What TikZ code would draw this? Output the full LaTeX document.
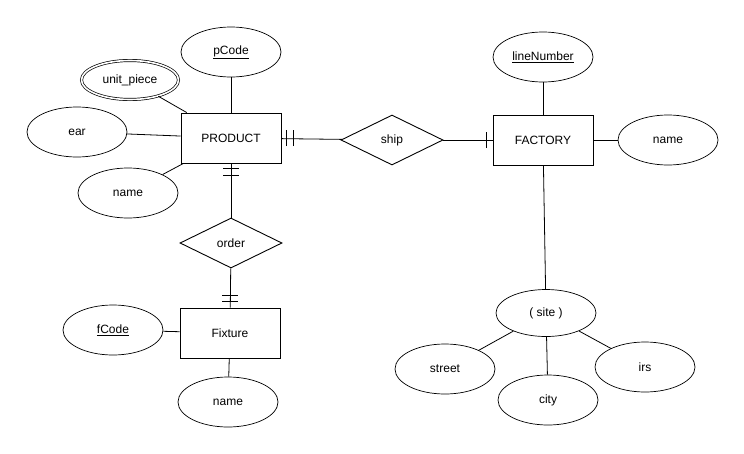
\documentclass[tikz,border=0pt]{standalone}
\usepackage{fontspec}
\setmainfont{Liberation Sans}
\usetikzlibrary{shapes.geometric}

\tikzset{
  every node/.style={font=\fontsize{12pt}{14pt}\selectfont, inner sep=0pt},
  entity/.style={draw, line width=0.9pt, rectangle, minimum width=100pt, minimum height=50pt},
  attr/.style={draw, line width=0.7pt, ellipse, minimum width=100pt, minimum height=50pt},
  multi/.style={attr, double, double distance=1.6pt, minimum width=97pt, minimum height=39pt},
  rel/.style={draw, line width=0.9pt, diamond, minimum width=102pt, minimum height=50pt},
  link/.style={line width=0.8pt},
  bar/.style={line width=0.9pt}
}

\begin{document}
\begin{tikzpicture}[x=1pt,y=-1pt]
\useasboundingbox (0,0) rectangle (744,453);

% entities and relationships
\node[entity] (prod) at (231,138) {PRODUCT};
\node[entity] (fact) at (543,140) {FACTORY};
\node[entity] (fix) at (230,333) {Fixture};
\node[rel] (ship) at (392,140) {ship};
\node[rel] (order) at (231,243) {order};

% attributes
\node[attr] (pcode) at (231,52) {\underline{pCode}};
\node[multi] (unit) at (130,80) {unit\_piece};
\node[attr] (ear) at (77,132) {ear};
\node[attr] (pname) at (128,193) {name};
\node[attr] (lnum) at (543,57) {\underline{lineNumber}};
\node[attr] (fname) at (668,140) {name};
\node[attr, minimum height=47pt] (site) at (546,313) {( site )};
\node[attr] (street) at (445,369) {street};
\node[attr] (city) at (548,400) {city};
\node[attr] (irs) at (645,367) {irs};
\node[attr] (fcode) at (113,330) {\underline{fCode}};
\node[attr] (xname) at (228,402) {name};

\draw[link] (pcode) -- (prod);
\draw[link] (unit) -- (prod);
\draw[link] (ear) -- (prod);
\draw[link] (pname) -- (prod);
\draw[link] (lnum) -- (fact);
\draw[link] (fname) -- (fact);
\draw[link] (fact) -- (site);
\draw[link] (site) -- (street);
\draw[link] (site) -- (city);
\draw[link] (site) -- (irs);
\draw[link] (fcode) -- (fix);
\draw[link] (xname) -- (fix);

\draw[link] (prod) -- (ship);
\draw[link] (ship) -- (fact);
\draw[link] (prod) -- (order);
\draw[link] (order) -- (fix);

% cardinality bars
\draw[bar] ([xshift=5pt,yshift=-8pt]prod.east) -- ++(0pt,16pt);
\draw[bar] ([xshift=11.5pt,yshift=-8pt]prod.east) -- ++(0pt,16pt);
\draw[bar] ([xshift=-6pt,yshift=-8pt]fact.west) -- ++(0pt,16pt);
\draw[bar] ([xshift=-8pt,yshift=-4.5pt]prod.south) -- ++(16pt,0pt);
\draw[bar] ([xshift=-8pt,yshift=-12pt]prod.south) -- ++(16pt,0pt);
\draw[bar] ([xshift=-8pt,yshift=6pt]fix.north) -- ++(16pt,0pt);
\draw[bar] ([xshift=-8pt,yshift=12.5pt]fix.north) -- ++(16pt,0pt);
\end{tikzpicture}
\end{document}
